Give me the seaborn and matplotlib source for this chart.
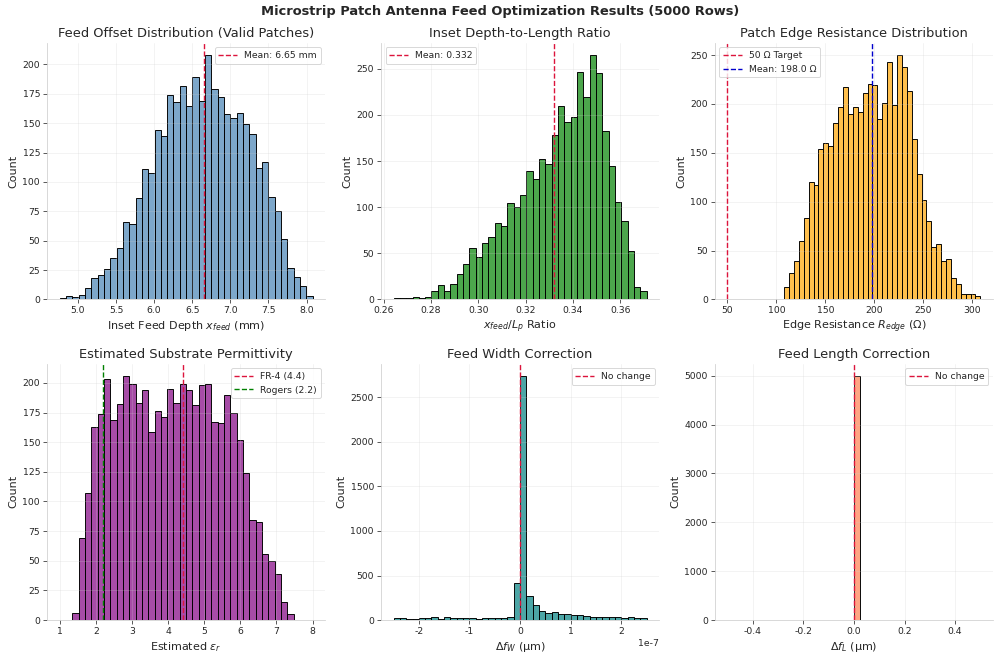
import numpy as np
import pandas as pd
import matplotlib
matplotlib.use("Agg")
import matplotlib.pyplot as plt
import seaborn as sns

# ---- data (bin range + counts per panel) ----
feed_offset_range = (4.76, 8.08)
feed_offset_counts = [1, 3, 2, 4, 10, 18, 21, 26, 35, 44,
                      66, 64, 86, 111, 108, 144, 139, 174, 168, 182,
                      165, 189, 169, 208, 179, 172, 158, 154, 159, 149,
                      141, 112, 117, 87, 75, 51, 27, 19, 11, 3]
feed_offset_mean = 6.65

ratio_range = (0.2642, 0.3710)
ratio_counts = [1, 1, 2, 3, 2, 3, 9, 16, 9, 17,
                27, 38, 56, 46, 61, 68, 83, 80, 105, 100,
                113, 139, 131, 152, 147, 178, 210, 192, 198, 247,
                220, 265, 245, 183, 145, 106, 85, 53, 13, 9]
ratio_mean = 0.332

redge_range = (107.9, 308.6)
redge_counts = [13, 27, 39, 60, 83, 120, 117, 154, 160, 157,
                180, 197, 217, 190, 197, 192, 211, 220, 219, 185,
                201, 243, 199, 250, 238, 213, 164, 128, 102, 80,
                54, 57, 39, 41, 22, 16, 6, 6, 6, 3]
redge_target = 50
redge_mean = 198.0

er_range = (1.0, 8.0)
er_counts = [0, 0, 6, 69, 107, 163, 174, 203, 169, 182,
             206, 199, 183, 194, 159, 176, 171, 195, 183, 199,
             194, 181, 198, 199, 167, 166, 190, 175, 152, 124,
             84, 83, 56, 50, 39, 15, 5, 0, 0, 0]
er_fr4 = 4.4
er_rogers = 2.2

dfw_range = (-2.5e-7, 2.5e-7)
dfw_counts = [19, 19, 15, 15, 19, 26, 30, 8, 30, 26,
              19, 22, 22, 15, 22, 19, 26, 22, 37, 420,
              2740, 270, 165, 105, 80, 90, 68, 64, 56, 55,
              45, 40, 40, 40, 35, 40, 25, 30, 20, 20]

dfl_range = (-0.5, 0.5)
dfl_counts = [0] * 20 + [5000] + [0] * 19


def draw_hist(ax, value_range, counts, color):
    edges = np.linspace(value_range[0], value_range[1], len(counts) + 1)
    df = pd.DataFrame({"x": (edges[:-1] + edges[1:]) / 2, "n": counts})
    sns.histplot(data=df, x="x", weights="n", bins=len(counts),
                 binrange=value_range, color=color, edgecolor="black",
                 alpha=0.7, linewidth=1, ax=ax)
    ax.set_ylabel("Count")


sns.set_style("whitegrid")
plt.rcParams["font.family"] = ["DejaVu Sans"]
plt.rcParams.update({
    "axes.edgecolor": ".8",
    "axes.axisbelow": "line",
    "axes.unicode_minus": False,
    "xtick.bottom": True,
    "ytick.left": True,
    "xtick.major.size": 4,
    "ytick.major.size": 4,
    "xtick.color": ".15",
    "ytick.color": ".15",
    "xtick.labelsize": 10,
    "ytick.labelsize": 10,
    "axes.labelsize": 12,
    "axes.titlesize": 14,
    "legend.fontsize": 10,
})

fig, axes = plt.subplots(2, 3, figsize=(15, 9.885), dpi=66.67)
fig.suptitle("Microstrip Patch Antenna Feed Optimization Results (5000 Rows)",
             fontsize=14, fontweight="bold", y=0.992)

line_kw = dict(linestyle="--", linewidth=1.5)

ax = axes[0, 0]
draw_hist(ax, feed_offset_range, feed_offset_counts, "steelblue")
ax.axvline(feed_offset_mean, color="crimson", **line_kw,
           label=f"Mean: {feed_offset_mean:.2f} mm")
ax.set_title("Feed Offset Distribution (Valid Patches)")
ax.set_xlabel(r"Inset Feed Depth $x_{feed}$ (mm)")
ax.legend(loc="upper right")

ax = axes[0, 1]
draw_hist(ax, ratio_range, ratio_counts, "green")
ax.axvline(ratio_mean, color="crimson", **line_kw,
           label=f"Mean: {ratio_mean:.3f}")
ax.set_title("Inset Depth-to-Length Ratio")
ax.set_xlabel(r"$x_{feed}/L_p$ Ratio")
ax.legend(loc="upper left")

ax = axes[0, 2]
draw_hist(ax, redge_range, redge_counts, "orange")
ax.axvline(redge_target, color="crimson", **line_kw,
           label=f"{redge_target} Ω Target")
ax.axvline(redge_mean, color="mediumblue", **line_kw,
           label=f"Mean: {redge_mean:.1f} Ω")
ax.set_title("Patch Edge Resistance Distribution")
ax.set_xlabel(r"Edge Resistance $R_{edge}$ (Ω)")
ax.legend(loc="upper left")

ax = axes[1, 0]
draw_hist(ax, er_range, er_counts, "purple")
ax.axvline(er_fr4, color="crimson", **line_kw,
           label=f"FR-4 ({er_fr4})")
ax.axvline(er_rogers, color="green", **line_kw,
           label=f"Rogers ({er_rogers})")
ax.set_title("Estimated Substrate Permittivity")
ax.set_xlabel(r"Estimated $\varepsilon_r$")
ax.legend(loc="upper right")

ax = axes[1, 1]
draw_hist(ax, dfw_range, dfw_counts, "teal")
ax.axvline(0, color="crimson", **line_kw, label="No change")
ax.set_title("Feed Width Correction")
ax.set_xlabel(r"$\Delta f_W$ (μm)")
ax.legend(loc="upper right")

ax = axes[1, 2]
draw_hist(ax, dfl_range, dfl_counts, "coral")
ax.axvline(0, color="crimson", **line_kw, label="No change")
ax.set_title("Feed Length Correction")
ax.set_xlabel(r"$\Delta f_L$ (μm)")
ax.legend(loc="upper right")

for ax in axes.flat:
    ax.grid(True, alpha=0.3)
    sns.despine(ax=ax)

plt.subplots_adjust(left=0.047, right=0.993, bottom=0.059, top=0.935,
                    wspace=0.2, hspace=0.25)
plt.savefig("out.png", dpi=66.67)
plt.close()
